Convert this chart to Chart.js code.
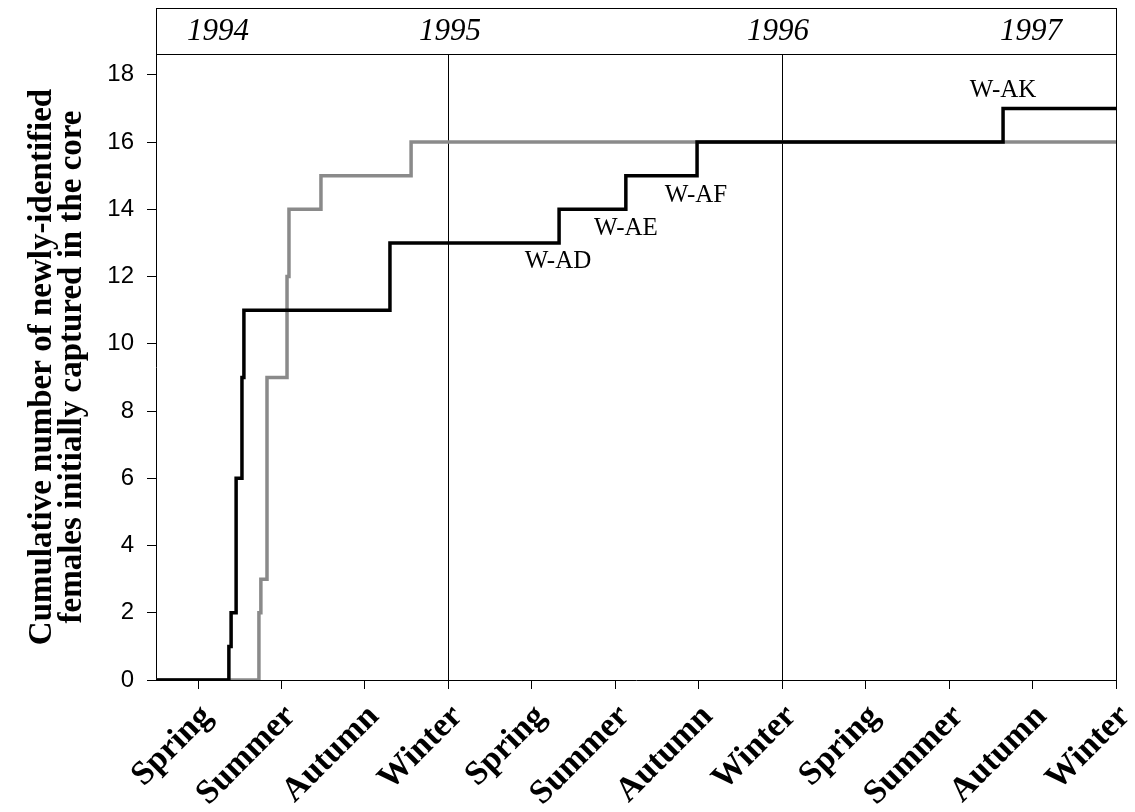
<!DOCTYPE html>
<html><head><meta charset="utf-8">
<script src="https://cdn.jsdelivr.net/npm/chart.js@4"></script>
<style>html,body{margin:0;padding:0;background:#fff;}#wrap{width:1135px;height:812px;}</style>
</head><body><div id="wrap"><canvas id="c" width="1135" height="812"></canvas></div>
<script>
// x unit: months since 1 Jan 1994
const seasonLabels = ['Spring','Summer','Autumn','Winter','Spring','Summer','Autumn','Winter','Spring','Summer','Autumn','Winter'];
const seasonTicks = [3,6,9,12,15,18,21,24,27,30,33,36];
const yearLabels = ['1994','1995','1996','1997'];
const yearTicks = [3.72, 12.06, 23.85, 32.94];
const yearLines = [12, 24, 36];
const yTicks = [0,2,4,6,8,10,12,14,16,18];
const blackX = [1.49, 4.11, 4.19, 4.37, 4.58, 4.65, 9.90, 15.98, 18.38, 20.94, 31.94, 36];
const blackY = [0, 1, 2, 6, 9, 11, 13, 14, 15, 16, 17, 17];
const grayX = [1.49, 5.19, 5.26, 5.48, 6.20, 6.27, 7.42, 10.66, 36];
const grayY = [0, 2, 3, 9, 12, 14, 15, 16, 16];
const annoText = ['W-AD','W-AE','W-AF','W-AK'];
const annoX = [15.94, 18.38, 20.90, 31.94];
const annoY = [12.44, 13.42, 14.40, 17.55];
const yTitle = ['Cumulative number of newly-identified','females initially captured in the core'];

const SERIF = '"Liberation Serif", "Times New Roman", serif';
const SANS = '"Liberation Sans", Arial, sans-serif';

const bandPlugin = {
  id: 'band',
  afterDraw(chart) {
    const ctx = chart.ctx, ca = chart.chartArea, top = chart.scales.xTop.top;
    ctx.save();
    ctx.strokeStyle = '#000'; ctx.lineWidth = 1;
    ctx.strokeRect(Math.round(ca.left) + 0.5, Math.round(top) + 0.5, Math.round(ca.right - ca.left), Math.round(ca.top - top));
    ctx.restore();
  }
};
const annoPlugin = {
  id: 'anno',
  afterDatasetsDraw(chart) {
    const ctx = chart.ctx, sx = chart.scales.x, sy = chart.scales.y;
    ctx.save();
    ctx.fillStyle = '#000';
    ctx.font = '25px ' + SERIF;
    ctx.textAlign = 'center'; ctx.textBaseline = 'middle';
    annoText.forEach((t, i) => ctx.fillText(t, sx.getPixelForValue(annoX[i]), sy.getPixelForValue(annoY[i])));
    ctx.restore();
  }
};

new Chart(document.getElementById('c'), {
  type: 'line',
  data: {
    datasets: [
      { label: 'black', data: blackX.map((x, i) => ({x, y: blackY[i]})), borderColor: '#000', borderWidth: 3.5,
        stepped: 'before', pointRadius: 0, fill: false, order: 0, xAxisID: 'x', yAxisID: 'y' },
      { label: 'gray', data: grayX.map((x, i) => ({x, y: grayY[i]})), borderColor: '#8a8a8a', borderWidth: 3.5,
        stepped: 'before', pointRadius: 0, fill: false, order: 1, xAxisID: 'x', yAxisID: 'y' }
    ]
  },
  options: {
    responsive: false, devicePixelRatio: 1, animation: false,
    layout: { padding: { top: 8, right: 19, bottom: 0, left: 0 } },
    plugins: { legend: { display: false }, tooltip: { enabled: false } },
    scales: {
      x: {
        type: 'linear', position: 'bottom', min: 1.49, max: 36,
        afterBuildTicks: s => { s.ticks = seasonTicks.map(v => ({ value: v })); },
        afterFit: s => { s.height = 132; s.paddingLeft = 0; s.paddingRight = 0; },
        ticks: { autoSkip: false, minRotation: 45, maxRotation: 45, color: '#000', padding: 8, labelOffset: 9,
          font: { family: SERIF, size: 34, weight: 'bold' },
          callback: v => seasonLabels[seasonTicks.indexOf(v)] },
        grid: { color: c => (c.tick && yearLines.includes(c.tick.value)) ? '#000' : 'rgba(0,0,0,0)',
          tickColor: '#000', tickLength: 9, lineWidth: 1 },
        border: { display: true, color: '#000', width: 1 }
      },
      xTop: {
        type: 'linear', position: 'top', min: 1.49, max: 36,
        afterBuildTicks: s => { s.ticks = yearTicks.map(v => ({ value: v })); },
        afterFit: s => { s.height = 46; s.paddingLeft = 0; s.paddingRight = 0; },
        ticks: { autoSkip: false, maxRotation: 0, color: '#000', padding: 4,
          font: { family: SERIF, size: 31, style: 'italic' },
          callback: v => yearLabels[yearTicks.indexOf(v)] },
        grid: { drawOnChartArea: false, drawTicks: false },
        border: { display: true, color: '#000', width: 1 }
      },
      y: {
        min: 0, max: 18.62,
        afterBuildTicks: s => { s.ticks = yTicks.map(v => ({ value: v })); },
        afterFit: s => { s.width = 156; },
        ticks: { color: '#000', padding: 13, font: { family: SANS, size: 24 } },
        grid: { drawOnChartArea: false, tickLength: 9, tickColor: '#000' },
        border: { display: true, color: '#000', width: 1 },
        title: { display: true, text: yTitle, color: '#000',
          font: { family: SERIF, size: 33, weight: 'bold', lineHeight: 0.92 },
          padding: { top: 27, bottom: 0 } }
      }
    }
  },
  plugins: [bandPlugin, annoPlugin]
});
</script></body></html>
